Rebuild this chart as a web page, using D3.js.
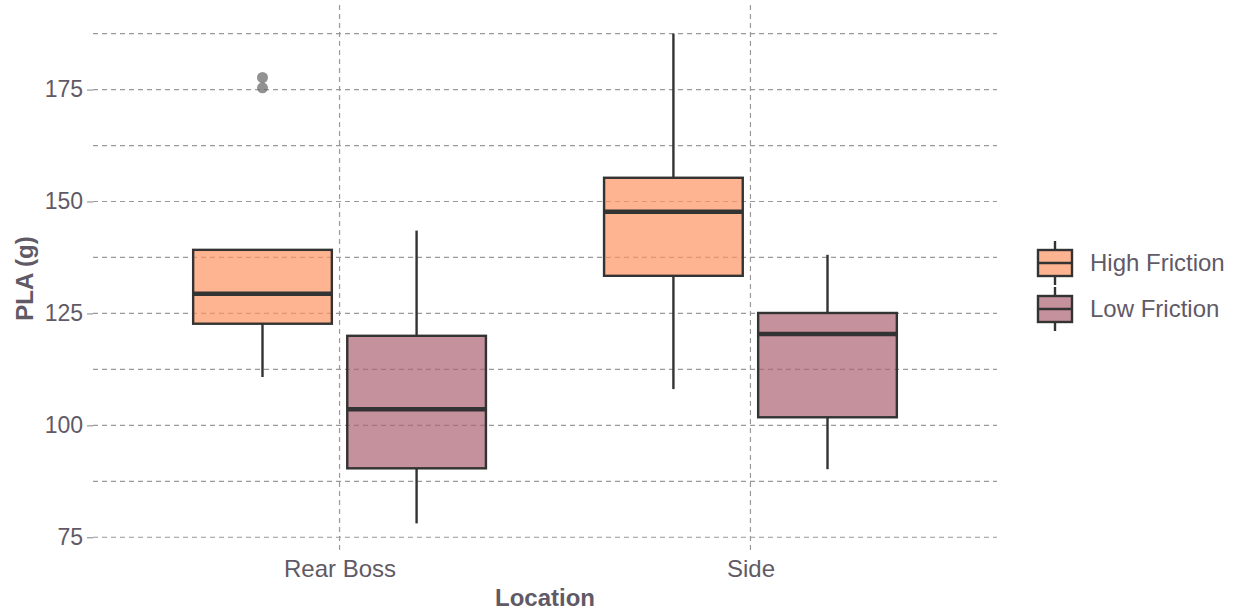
<!DOCTYPE html>
<html>
<head>
<meta charset="utf-8">
<script src="https://cdn.jsdelivr.net/npm/d3@7"></script>
<style>
  body { margin: 0; background: white; }
  svg text { font-family: "Liberation Sans", Arial, sans-serif; }
</style>
</head>
<body>
<svg id="chart" width="1233" height="610"></svg>
<script>
// data
const locations = ["Rear Boss", "Side"];
const frictions = ["High Friction", "Low Friction"];
// order: [location][friction]
const lowWhisker = [[110.8, 78.1], [108.1, 90.2]];
const q1 = [[122.7, 90.4], [133.4, 101.8]];
const median = [[129.4, 103.6], [147.7, 120.4]];
const q3 = [[139.2, 120.0], [155.3, 125.1]];
const highWhisker = [[139.2, 143.5], [187.5, 138.1]];
const outliers = [[[177.7, 175.4], []], [[], []]];
const yTicks = [75, 100, 125, 150, 175];
const yMinor = [87.5, 112.5, 137.5, 162.5, 187.5];

const colors = { "High Friction": "#ff9463", "Low Friction": "#ab6272" };
const textCol = "#5f5a66";

const svg = d3.select("#chart");
const margin = { top: 9, right: 236, bottom: 62, left: 93 };
const W = 1233, H = 610;

const x = d3.scaleLinear()
  .domain([0.4, 2.6])
  .range([margin.left, W - margin.right]);
const y = d3.scaleLinear()
  .domain([72.6, 193])
  .range([H - margin.bottom, margin.top]);

const unit = x(2) - x(1);
const dodge = 0.75;
const boxW = unit * dodge / 2 * 0.9;

// grid
const grid = svg.append("g");
grid.selectAll("line.h")
  .data(yTicks.concat(yMinor))
  .enter().append("line")
  .attr("x1", x.range()[0]).attr("x2", x.range()[1])
  .attr("y1", d => y(d)).attr("y2", d => y(d))
  .attr("stroke", "#999")
  .attr("stroke-width", 1.2)
  .attr("stroke-dasharray", "5,4");
grid.selectAll("line.v")
  .data(locations)
  .enter().append("line")
  .attr("x1", (d, i) => x(i + 1)).attr("x2", (d, i) => x(i + 1))
  .attr("y1", y.range()[1] - 4).attr("y2", y.range()[0] + 3)
  .attr("stroke", "#999")
  .attr("stroke-width", 1.2)
  .attr("stroke-dasharray", "5,4");

// y axis
const yAxis = svg.append("g")
  .attr("transform", `translate(${margin.left},0)`)
  .call(d3.axisLeft(y).tickValues(yTicks).tickSize(6).tickPadding(4));
yAxis.select(".domain").remove();
yAxis.selectAll(".tick line").attr("stroke", "#999").attr("stroke-width", 1.2);
yAxis.selectAll(".tick text").attr("fill", textCol).style("font-size", "23px");

// x axis labels
const xAxis = svg.append("g")
  .attr("transform", `translate(0,${y.range()[0]})`)
  .call(d3.axisBottom(x).tickValues([1, 2]).tickFormat((d, i) => locations[i]).tickSize(0).tickPadding(12));
xAxis.select(".domain").remove();
xAxis.selectAll(".tick text").attr("fill", textCol).style("font-size", "24px");

// boxes
const boxes = [];
locations.forEach((loc, i) => {
  frictions.forEach((f, j) => {
    boxes.push({
      cx: x(i + 1) + (j === 0 ? -1 : 1) * unit * dodge / 4,
      f: f,
      lo: lowWhisker[i][j], q1: q1[i][j], med: median[i][j],
      q3: q3[i][j], hi: highWhisker[i][j], out: outliers[i][j]
    });
  });
});

const bg = svg.append("g")
  .selectAll("g")
  .data(boxes)
  .enter().append("g");

bg.append("line")
  .attr("x1", d => d.cx).attr("x2", d => d.cx)
  .attr("y1", d => y(d.hi)).attr("y2", d => y(d.q3))
  .attr("stroke", "#333").attr("stroke-width", 2.4);
bg.append("line")
  .attr("x1", d => d.cx).attr("x2", d => d.cx)
  .attr("y1", d => y(d.q1)).attr("y2", d => y(d.lo))
  .attr("stroke", "#333").attr("stroke-width", 2.4);
bg.append("rect")
  .attr("x", d => d.cx - boxW / 2)
  .attr("width", boxW)
  .attr("y", d => y(d.q3))
  .attr("height", d => y(d.q1) - y(d.q3))
  .attr("fill", d => colors[d.f])
  .attr("fill-opacity", 0.7)
  .attr("stroke", "#333")
  .attr("stroke-width", 2.4);
bg.append("line")
  .attr("x1", d => d.cx - boxW / 2).attr("x2", d => d.cx + boxW / 2)
  .attr("y1", d => y(d.med)).attr("y2", d => y(d.med))
  .attr("stroke", "#333").attr("stroke-width", 4.5);
bg.selectAll("circle")
  .data(d => d.out.map(v => ({ cx: d.cx, v: v })))
  .enter().append("circle")
  .attr("cx", d => d.cx).attr("cy", d => y(d.v))
  .attr("r", 5.5)
  .attr("fill", "#6e6e6e")
  .attr("fill-opacity", 0.75);

// axis titles
svg.append("text")
  .attr("x", x(1.5)).attr("y", 606)
  .attr("text-anchor", "middle")
  .attr("fill", textCol)
  .style("font-size", "24px").style("font-weight", "bold")
  .text("Location");
svg.append("text")
  .attr("transform", `translate(33,${(y.range()[0] + y.range()[1]) / 2}) rotate(-90)`)
  .attr("text-anchor", "middle")
  .attr("fill", textCol)
  .style("font-size", "24px").style("font-weight", "bold")
  .text("PLA (g)");

// legend
const legend = svg.append("g")
  .selectAll("g")
  .data(frictions)
  .enter().append("g")
  .attr("transform", (d, i) => `translate(1055,${263 + i * 46})`);
legend.append("line")
  .attr("y1", -22).attr("y2", 22)
  .attr("stroke", "#333").attr("stroke-width", 2.4);
legend.append("rect")
  .attr("x", -17).attr("y", -13).attr("width", 34).attr("height", 26)
  .attr("fill", "white");
legend.append("rect")
  .attr("x", -17).attr("y", -13).attr("width", 34).attr("height", 26)
  .attr("fill", d => colors[d]).attr("fill-opacity", 0.7)
  .attr("stroke", "#333").attr("stroke-width", 2.4);
legend.append("line")
  .attr("x1", -17).attr("x2", 17)
  .attr("stroke", "#333").attr("stroke-width", 2.4);
legend.append("text")
  .attr("x", 35).attr("dy", "0.35em")
  .attr("fill", textCol)
  .style("font-size", "24px")
  .text(d => d);
</script>
</body>
</html>
